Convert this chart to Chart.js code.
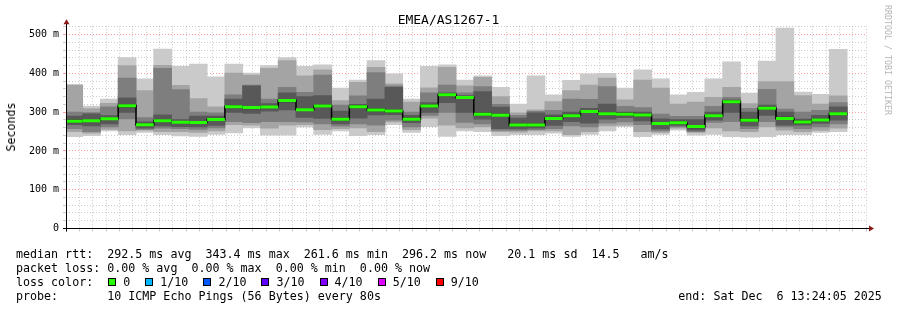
<!DOCTYPE html>
<html>
<head>
<meta charset="utf-8">
<title>EMEA/AS1267-1</title>
<script src="https://cdn.jsdelivr.net/npm/chart.js@4.4.1/dist/chart.umd.min.js"></script>
<style>
  body { margin: 0; background: #fff; }
  #wrap { position: relative; width: 897px; height: 310px; font-family: 'DejaVu Sans Mono', monospace; color: #000; }
  #smoke { position: absolute; left: 0; top: 0; }
  .t { position: absolute; white-space: pre; font-size: 11.66px; line-height: 14px; }
  .sq { position: absolute; width: 6px; height: 6px; border: 1px solid #000; }
</style>
</head>
<body>
<div id="wrap">
  <canvas id="smoke" width="897" height="310"></canvas>
  <div class="t" style="left:0;top:11.5px;width:897px;text-align:center;font-size:13px;line-height:15px;">EMEA/AS1267-1</div>
  <div class="t" style="left:11px;top:127px;transform:translate(-50%,-50%) rotate(-90deg);">Seconds</div>
  <div class="t" style="left:888px;top:60px;transform:translate(-50%,-50%) rotate(90deg);font-size:8.3px;line-height:10px;color:#b4b4b4;">RRDTOOL / TOBI OETIKER</div>
  <div class="t" id="summary" style="left:16px;top:247.3px;"></div>
  <div id="losskey"></div>
  <div class="t" style="left:678.3px;top:289.3px;">end: Sat Dec  6 13:24:05 2025</div>
</div>
<script>
// 10 pings per 80 s step, sorted from fastest (ping1) to slowest (ping10), in ms
const ping1  = [237,240,252,242,248,242,239,238,243,247, 260,241,241,262,243,252,240,242,268,248, 263,238,252,250,240,242,242,246,238,243, 252,263,237,243,254,241,243,237,236,237, 242,242,248,250];
const ping2  = [250,246,256,252,254,250,250,248,252,268, 267,259,267,268,255,258,260,250,275,255, 285,267,260,262,250,249,252,252,242,250, 265,267,250,248,259,248,260,252,250,262, 254,250,253,259];
const ping3  = [258,250,262,283,256,259,258,256,260,276, 273,276,276,275,270,264,270,267,280,262, 292,300,274,270,253,253,255,258,265,262, 272,275,268,252,262,250,274,276,258,276, 262,258,262,270];
const ping4  = [268,265,270,300,259,265,263,262,266,300, 297,303,306,287,284,270,285,293,294,273, 300,325,300,282,258,257,259,266,276,272, 282,286,278,257,266,254,280,300,265,292, 267,267,271,280];
const ping5  = [274,276,281,313,266,275,272,271,279,311, 309,311,327,304,313,279,311,303,300,279, 313,342,335,292,290,264,264,281,288,299, 293,292,290,268,270,260,288,324,276,307, 281,272,277,293];
const ping6  = [280,280,285,320,270,281,276,276,283,317, 315,316,333,309,319,285,317,309,306,285, 319,348,341,298,295,270,270,287,294,305, 299,298,296,274,276,266,294,330,282,313, 287,278,283,299];
const ping7  = [290,296,291,337,275,293,281,290,290,334, 368,322,350,340,343,303,320,334,364,292, 325,350,343,353,313,285,298,293,300,310, 321,300,300,283,281,281,300,332,300,318, 300,282,292,314];
const ping8  = [300,299,314,388,286,413,358,300,298,345, 370,334,364,351,396,318,342,402,368,300, 350,370,350,366,320,292,302,305,334,333, 366,315,312,295,289,289,315,338,310,359, 308,300,305,325];
const ping9  = [369,309,323,420,356,421,369,335,314,401, 396,413,433,394,409,330,377,416,373,326, 363,416,368,390,340,298,306,327,356,370, 388,332,383,362,321,326,338,364,322,379, 379,343,321,342];
const ping10 = [372,316,334,441,386,463,418,424,391,424, 401,420,441,418,422,362,383,433,399,334, 418,422,383,394,364,321,394,345,382,399, 400,362,409,386,345,351,386,430,349,432, 517,352,346,462];

// time axis, seconds of the day
const firstBin = 12 * 3600 + 24 * 60;   // 12:24:00
const binStep = 80;
const viewStart = firstBin + 5;          // 12:24:05
const viewEnd = viewStart + 3600;        // 13:24:05

const xTickLabels = ['12:25','12:30','12:35','12:40','12:45','12:50','12:55','13:00','13:05','13:10','13:15','13:20'];
const yTickLabels = ['0','100 m','200 m','300 m','400 m','500 m'];

const lossLabels = ['0','1/10','2/10','3/10','4/10','5/10','9/10'];
const lossColors = ['#26ff00','#00b8ff','#0059ff','#5e00ff','#7e00ff','#dd00ff','#ff0000'];

const summaryLines = [
  'median rtt:  292.5 ms avg  343.4 ms max  261.6 ms min  296.2 ms now   20.1 ms sd  14.5   am/s',
  'packet loss: 0.00 % avg  0.00 % max  0.00 % min  0.00 % now',
  'loss color:',
  'probe:       10 ICMP Echo Pings (56 Bytes) every 80s'
];

document.getElementById('summary').textContent = summaryLines.join('\n');

// loss colour key
var key = document.getElementById('losskey');
var kx = 108.3;
lossLabels.forEach(function(lbl, i) {
  var sq = document.createElement('div');
  sq.className = 'sq';
  sq.style.left = kx + 'px';
  sq.style.top = '278.3px';
  sq.style.background = lossColors[i];
  key.appendChild(sq);
  var tx = document.createElement('div');
  tx.className = 't';
  tx.style.left = (kx + 15) + 'px';
  tx.style.top = '275.3px';
  tx.textContent = lbl;
  key.appendChild(tx);
  kx += 15 + lbl.length * 7.02 + 15;
});

const plotWidth = 800;   // px for the 3600 s window
const pings = [ping1, ping2, ping3, ping4, ping5, ping6, ping7, ping8, ping9, ping10];
const shades = ['#cacaca', '#a4a4a4', '#7e7e7e', '#585858', '#323232'];

// smoke: band k spans ping(k+1) .. ping(10-k)
var datasets = shades.map(function(c, k) {
  return {
    type: 'bar',
    label: 'smoke ' + k,
    order: 10 - k,
    grouped: false,
    backgroundColor: c,
    borderWidth: 0,
    barThickness: plotWidth * binStep / 3600,
    inflateAmount: 0.4,
    data: ping1.map(function(_, i) {
      return { x: firstBin + binStep * i + binStep / 2, y: [pings[k][i], pings[9 - k][i]] };
    })
  };
});

// median = mean of the two middle pings, drawn as a step line
var medPts = [];
ping5.forEach(function(v, i) {
  var m = (v + ping6[i]) / 2;
  var t0 = firstBin + binStep * i;
  medPts.push({ x: t0, y: m }, { x: t0 + binStep, y: m });
});

datasets.push({
  type: 'line', label: 'median edge', order: 2, data: medPts,
  borderColor: '#000', borderWidth: 1.5, pointRadius: 0, tension: 0, fill: false
});
datasets.push({
  type: 'line', label: 'median', order: 1, data: medPts,
  borderColor: lossColors[0], borderWidth: 3, pointRadius: 0, tension: 0, fill: false,
  borderCapStyle: 'butt',
  segment: {
    borderColor: function(ctx) { return ctx.p0.parsed.x === ctx.p1.parsed.x ? 'rgba(0,0,0,0)' : lossColors[0]; }
  }
});

const minorGrid = 'rgba(140,140,140,0.45)';
const majorGrid = 'rgba(255,60,60,0.5)';

function hhmm(v) {
  var h = Math.floor(v / 3600), m = Math.floor((v % 3600) / 60);
  return (h < 10 ? '0' : '') + h + ':' + (m < 10 ? '0' : '') + m;
}

// axis lines with the little rrdtool arrows
const axisArrows = {
  id: 'axisArrows',
  afterDraw: function(chart) {
    var ctx = chart.ctx, a = chart.chartArea;
    var ax = Math.round(a.left) + 0.5, ay = Math.floor(a.bottom) + 0.5;
    ctx.save();
    ctx.strokeStyle = '#000';
    ctx.lineWidth = 1;
    ctx.beginPath();
    ctx.moveTo(a.left - 3, ay); ctx.lineTo(a.right + 4, ay);
    ctx.moveTo(ax, a.bottom + 3); ctx.lineTo(ax, a.top - 3);
    ctx.stroke();
    ctx.fillStyle = '#8b1a1a';
    ctx.beginPath();
    ctx.moveTo(ax, a.top - 7); ctx.lineTo(ax - 3, a.top - 2); ctx.lineTo(ax + 3, a.top - 2); ctx.closePath();
    ctx.fill();
    ctx.beginPath();
    ctx.moveTo(a.right + 8, ay); ctx.lineTo(a.right + 3, ay - 3); ctx.lineTo(a.right + 3, ay + 3); ctx.closePath();
    ctx.fill();
    ctx.restore();
  }
};

new Chart(document.getElementById('smoke'), {
  type: 'bar',
  data: { datasets: datasets },
  options: {
    responsive: false,
    animation: false,
    events: [],
    layout: { padding: { left: 0, right: 31, top: 26.2, bottom: 0 } },
    plugins: { legend: { display: false }, tooltip: { enabled: false }, title: { display: false } },
    scales: {
      x: {
        type: 'linear',
        min: viewStart,
        max: viewEnd,
        offset: false,
        grid: {
          offset: false,
          tickLength: 3,
          color: function(ctx) { return ctx.tick && ctx.tick.value % 300 === 0 ? majorGrid : minorGrid; }
        },
        border: { display: false, dash: [1, 2] },
        ticks: {
          stepSize: 60,
          includeBounds: false,
          autoSkip: false,
          maxRotation: 0,
          padding: 2,
          color: '#000',
          font: { family: 'DejaVu Sans Mono', size: 10 },
          callback: function(v) {
            var s = hhmm(v);
            return v % 300 === 0 && xTickLabels.indexOf(s) >= 0 ? s : '';
          }
        },
        afterFit: function(s) { s.height = 81.5; }
      },
      y: {
        min: 0,
        max: 522,
        grid: {
          tickLength: 3,
          color: function(ctx) { return ctx.tick && ctx.tick.value % 100 === 0 ? majorGrid : minorGrid; }
        },
        border: { display: false, dash: [1, 2] },
        ticks: {
          stepSize: 20,
          includeBounds: false,
          autoSkip: false,
          padding: 4,
          color: '#000',
          font: { family: 'DejaVu Sans Mono', size: 10 },
          callback: function(v) { return v % 100 === 0 ? yTickLabels[v / 100] : ''; }
        },
        afterFit: function(s) { s.width = 66; }
      }
    }
  },
  plugins: [axisArrows]
});
</script>
</body>
</html>
